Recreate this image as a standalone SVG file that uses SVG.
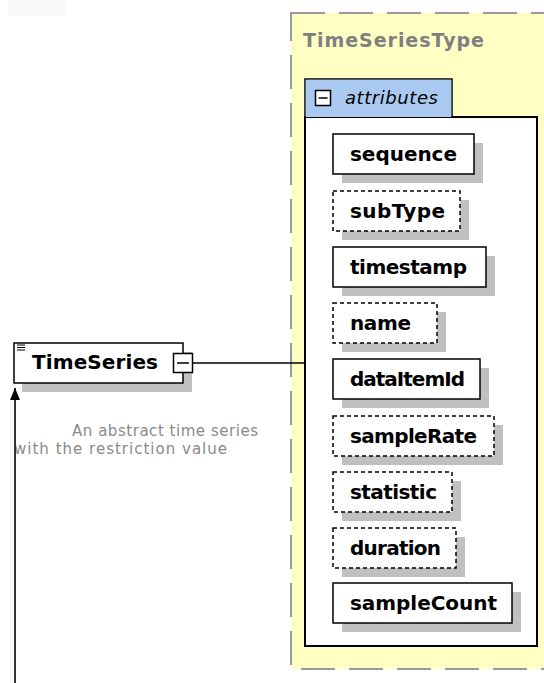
<svg xmlns="http://www.w3.org/2000/svg" width="544" height="683" viewBox="0 0 544 683">
  <style>
    .bg { fill: #ffffff; }
    .type { fill: #ffffc4; stroke: #999999; stroke-width: 2; stroke-dasharray: 34 14; }
    .panel { fill: #ffffff; stroke: #000000; stroke-width: 2; }
    .tab { fill: #a9c9f0; stroke: #000000; stroke-width: 1.5; }
    .shadow { fill: #c0c0c0; }
    .box { fill: #ffffff; stroke: #000000; stroke-width: 1.5; }
    .opt { fill: #ffffff; stroke: #000000; stroke-width: 1.5; stroke-dasharray: 4 3; }
    .lbl { font-family: "DejaVu Sans", Verdana, sans-serif; font-weight: bold; font-size: 20px; fill: #000000; }
    .title { font-family: "DejaVu Sans", Verdana, sans-serif; font-weight: bold; font-size: 19px; fill: #808080; }
    .tabtxt { font-family: "DejaVu Sans", Verdana, sans-serif; font-style: italic; font-size: 18px; fill: #000000; }
    .note { font-family: "DejaVu Sans", Verdana, sans-serif; font-size: 15px; fill: #8a8a8a; }
    .wire { stroke: #000000; stroke-width: 1.5; fill: none; }
    .base { stroke: #333333; stroke-width: 2; fill: none; }
  </style>
  <defs>
    <marker id="head" viewBox="0 0 12 10" refX="12" refY="5" markerWidth="12" markerHeight="10" markerUnits="userSpaceOnUse" orient="auto">
      <path d="M0,0 L12,5 L0,10 Z" fill="#000000"/>
    </marker>
  </defs>

  <rect class="bg" x="0" y="0" width="544" height="683"/>
  <rect x="8" y="0" width="58" height="16" fill="#fafafa"/>

  <!-- complex type container -->
  <g id="TimeSeriesType">
    <rect class="type" x="291" y="13" width="270" height="656"/>
    <text class="title" x="303" y="47" textLength="181">TimeSeriesType</text>
  </g>

  <!-- attributes compartment -->
  <g id="attributes">
    <rect class="panel" x="305" y="117" width="232" height="529"/>
    <path class="tab" d="M305,117 L305,79 L452,79 L452,117"/>
    <rect x="305.75" y="79.75" width="145.5" height="36.5" fill="#a9c9f0"/>
    <rect x="315.5" y="90.5" width="15" height="15" fill="#ffffff" stroke="#000000" stroke-width="1.5"/>
    <line x1="318.5" y1="98" x2="327.5" y2="98" stroke="#000000" stroke-width="1.5"/>
    <text class="tabtxt" x="345" y="104" textLength="93">attributes</text>
  </g>

  <g id="attr-sequence">
    <rect class="shadow" x="342" y="143" width="141" height="40"/>
    <rect class="box" x="333" y="134" width="141" height="40"/>
    <text class="lbl" x="350" y="161" textLength="107">sequence</text>
  </g>
  <g id="attr-subType">
    <rect class="shadow" x="342" y="200" width="127" height="40"/>
    <rect class="opt" x="333" y="191" width="127" height="40"/>
    <text class="lbl" x="350" y="218" textLength="95">subType</text>
  </g>
  <g id="attr-timestamp">
    <rect class="shadow" x="342" y="256" width="153" height="40"/>
    <rect class="box" x="333" y="247" width="153" height="40"/>
    <text class="lbl" x="350" y="274" textLength="117">timestamp</text>
  </g>
  <g id="attr-name">
    <rect class="shadow" x="342" y="312" width="104" height="40"/>
    <rect class="opt" x="333" y="303" width="104" height="40"/>
    <text class="lbl" x="350" y="330" textLength="61">name</text>
  </g>
  <g id="attr-dataItemId">
    <rect class="shadow" x="342" y="368" width="147" height="40"/>
    <rect class="box" x="333" y="359" width="147" height="40"/>
    <text class="lbl" x="350" y="386" textLength="115">dataItemId</text>
  </g>
  <g id="attr-sampleRate">
    <rect class="shadow" x="342" y="425" width="161" height="40"/>
    <rect class="opt" x="333" y="416" width="161" height="40"/>
    <text class="lbl" x="350" y="443" textLength="127">sampleRate</text>
  </g>
  <g id="attr-statistic">
    <rect class="shadow" x="342" y="481" width="119" height="40"/>
    <rect class="opt" x="333" y="472" width="119" height="40"/>
    <text class="lbl" x="350" y="499" textLength="87">statistic</text>
  </g>
  <g id="attr-duration">
    <rect class="shadow" x="342" y="537" width="123" height="40"/>
    <rect class="opt" x="333" y="528" width="123" height="40"/>
    <text class="lbl" x="350" y="555" textLength="91">duration</text>
  </g>
  <g id="attr-sampleCount">
    <rect class="shadow" x="342" y="592" width="179" height="40"/>
    <rect class="box" x="333" y="583" width="179" height="40"/>
    <text class="lbl" x="350" y="610" textLength="147">sampleCount</text>
  </g>

  <!-- element node -->
  <g id="TimeSeries">
    <rect class="shadow" x="22" y="352" width="170" height="40"/>
    <rect class="box" x="14" y="343" width="169" height="40"/>
    <line x1="17" y1="345" x2="25" y2="345" stroke="#000" stroke-width="1"/>
    <line x1="17" y1="347.5" x2="25" y2="347.5" stroke="#000" stroke-width="1"/>
    <line x1="17" y1="350" x2="25" y2="350" stroke="#000" stroke-width="1"/>
    <text class="lbl" x="32" y="369" textLength="126">TimeSeries</text>
    <rect x="173.5" y="353.5" width="19" height="19" fill="#ffffff" stroke="#000000" stroke-width="1.5"/>
    <line x1="177" y1="363" x2="189" y2="363" stroke="#000000" stroke-width="1.5"/>
    <text class="note" x="72" y="436" textLength="186">An abstract time series</text>
    <text class="note" x="14" y="454" textLength="213">with the restriction value</text>
  </g>

  <g id="connectors">
    <line class="wire" x1="193" y1="363" x2="305" y2="363"/>
    <line class="base" x1="15" y1="683" x2="15" y2="388" marker-end="url(#head)"/>
  </g>
</svg>
